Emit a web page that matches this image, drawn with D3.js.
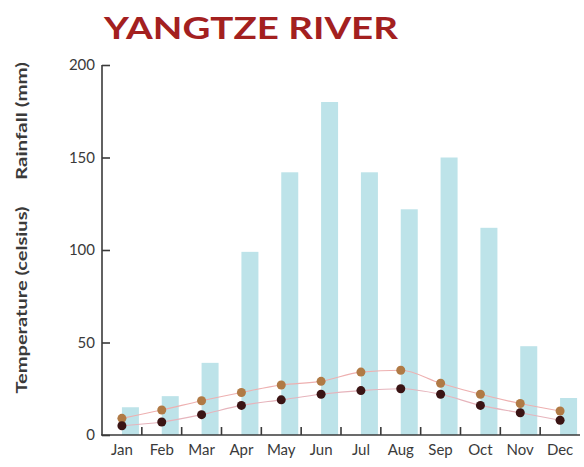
<!DOCTYPE html>
<html><head><meta charset="utf-8">
<script src="https://cdn.jsdelivr.net/npm/d3@7"></script>
<style>body{margin:0;background:#fff}svg{display:block}</style>
</head><body>
<script>
const months = ["Jan","Feb","Mar","Apr","May","Jun","Jul","Aug","Sep","Oct","Nov","Dec"];
const rainfall = [15, 21, 39, 99, 142, 180, 142, 122, 150, 112, 48, 20];
const tempHigh = [9, 13.5, 18.5, 23, 27, 29, 34, 35, 28, 22, 17, 13];
const tempLow = [5, 7, 11, 16, 19, 22, 24, 25, 22, 16, 12, 8];
const yTicks = [0, 50, 100, 150, 200];

const W = 584, H = 467;
const svg = d3.select("body").append("svg").attr("width", W).attr("height", H);
const x = d3.scaleBand().domain(months).range([102, 580]);
const y = d3.scaleLinear().domain([0, 200]).range([435, 65]);
const font = "Lato, 'Open Sans', sans-serif";

svg.append("text").attr("x", 104).attr("y", 39)
  .attr("font-family", font).attr("font-weight", 700).attr("font-size", 31)
  .attr("fill", "#a3201f").attr("textLength", 294).attr("lengthAdjust", "spacingAndGlyphs")
  .text("YANGTZE RIVER");

// bars
svg.append("g").selectAll("rect").data(months).join("rect")
  .attr("x", d => x(d) + x.bandwidth() / 2)
  .attr("width", 17)
  .attr("y", (d, i) => y(rainfall[i]))
  .attr("height", (d, i) => y(0) - y(rainfall[i]))
  .attr("fill", "#bde3e9");

// lines
const line = d3.line().x((v, i) => x(months[i]) + x.bandwidth() / 2).y(v => y(v)).curve(d3.curveMonotoneX);
svg.append("path").attr("d", line(tempHigh)).attr("fill", "none").attr("stroke", "#eeb0b0").attr("stroke-width", 1.1);
svg.append("path").attr("d", line(tempLow)).attr("fill", "none").attr("stroke", "#e6b4bc").attr("stroke-width", 1.1);

svg.append("g").selectAll("circle").data(tempHigh).join("circle")
  .attr("cx", (v, i) => x(months[i]) + x.bandwidth() / 2).attr("cy", v => y(v))
  .attr("r", 4.5).attr("fill", "#b07a45");
svg.append("g").selectAll("circle").data(tempLow).join("circle")
  .attr("cx", (v, i) => x(months[i]) + x.bandwidth() / 2).attr("cy", v => y(v))
  .attr("r", 4.5).attr("fill", "#3a1414");

// y axis
const yAxis = svg.append("g").attr("transform", "translate(102,0)")
  .call(d3.axisRight(y).tickValues(yTicks).tickSize(8).tickFormat(""));
yAxis.select(".domain").attr("d", "M0,65V435").attr("stroke", "#3a3a3a").attr("stroke-width", 1.6);
yAxis.selectAll(".tick line").attr("stroke", "#3a3a3a").attr("stroke-width", 1.6);
svg.append("g").selectAll("text").data(yTicks).join("text")
  .attr("x", 95).attr("y", d => y(d) + 5).attr("text-anchor", "end")
  .attr("font-family", font).attr("font-size", 15).attr("fill", "#3a3a3a").text(d => d);

// x axis
const xg = svg.append("g").attr("transform", "translate(0,435)");
xg.append("line").attr("x1", 101).attr("x2", 580).attr("stroke", "#3a3a3a").attr("stroke-width", 1.6);
xg.selectAll(".xt").data(months.slice(0, 11)).join("line").attr("class", "xt")
  .attr("x1", d => x(d) + x.bandwidth()).attr("x2", d => x(d) + x.bandwidth())
  .attr("y1", 0).attr("y2", -8).attr("stroke", "#3a3a3a").attr("stroke-width", 1.6);
xg.selectAll("text").data(months).join("text")
  .attr("x", d => x(d) + x.bandwidth() / 2).attr("y", 20).attr("text-anchor", "middle")
  .attr("font-family", font).attr("font-size", 15).attr("fill", "#3a3a3a").text(d => d);

// axis titles
svg.append("text").attr("transform", "translate(27,121) rotate(-90)").attr("text-anchor", "middle")
  .attr("font-family", font).attr("font-weight", 700).attr("font-size", 16).attr("fill", "#3a3a3a")
  .attr("textLength", 118).attr("lengthAdjust", "spacingAndGlyphs")
  .text("Rainfall (mm)");
svg.append("text").attr("transform", "translate(27,300) rotate(-90)").attr("text-anchor", "middle")
  .attr("font-family", font).attr("font-weight", 700).attr("font-size", 16).attr("fill", "#3a3a3a")
  .attr("textLength", 187).attr("lengthAdjust", "spacingAndGlyphs")
  .text("Temperature (celsius)");
</script>
</body></html>
